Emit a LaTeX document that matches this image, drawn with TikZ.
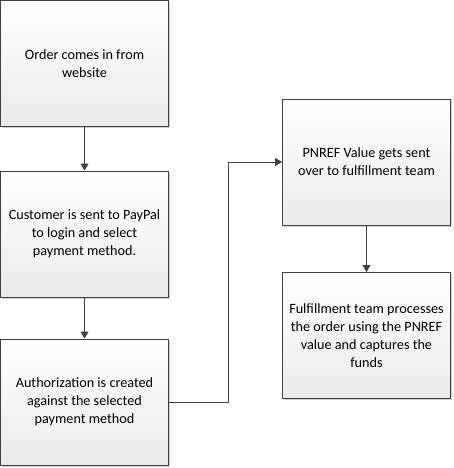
\documentclass[tikz,border=0pt]{standalone}
\usepackage{fontspec}
\setmainfont{Carlito}
\usetikzlibrary{arrows.meta,shadows}
\definecolor{edge}{HTML}{404040}
\tikzset{
  procbox/.style={draw=edge, line width=0.9pt, rectangle, top color=white, bottom color=gray!16,
    minimum width=168pt, minimum height=126pt, inner sep=0pt, align=center,
    font=\fontsize{14.2}{18}\selectfont,
    drop shadow={shadow xshift=1.6pt, shadow yshift=-1.6pt, fill=black, opacity=0.18}},
  conn/.style={draw=edge, line width=0.9pt, -{Triangle[width=8pt,length=7pt]}}
}
\begin{document}
\begin{tikzpicture}[x=1pt,y=-1pt]
\useasboundingbox (0,0) rectangle (453,468);
\node[procbox] (b1) at (84.5,63.5) {Order comes in from\\website};
\node[procbox] (b2) at (84.5,234) {Customer is sent to PayPal\\to login and select\\payment method.};
\node[procbox] (b3) at (84.5,402) {Authorization is created\\against the selected\\payment method};
\node[procbox] (b4) at (366.5,162) {PNREF Value gets sent\\over to fulfillment team};
\node[procbox] (b5) at (366.5,335.5) {Fulfillment team processes\\the order using the PNREF\\value and captures the\\funds};
\coordinate (k1) at (228,402);
\coordinate (k2) at (228,162);
\draw[conn] (b1) -- (b2);
\draw[conn] (b2) -- (b3);
\draw[conn] (b3.east) -- (k1) -- (k2) -- (b4.west);
\draw[conn] (b4) -- (b5);
\end{tikzpicture}
\end{document}
